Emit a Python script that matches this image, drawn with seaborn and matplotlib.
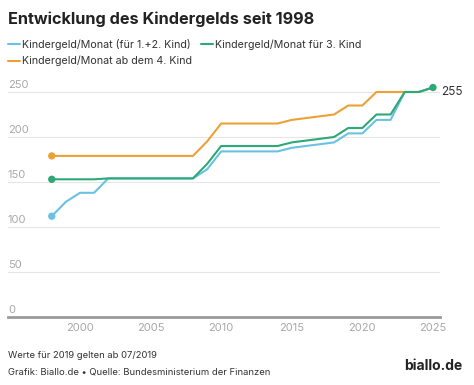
import matplotlib
matplotlib.use("Agg")
import matplotlib.pyplot as plt
import seaborn as sns
import pandas as pd
from matplotlib.lines import Line2D

years = [1998, 1999, 2000, 2001, 2002, 2003, 2004, 2005, 2006, 2007, 2008,
         2009, 2010, 2011, 2012, 2013, 2014, 2015, 2016, 2017, 2018, 2019,
         2020, 2021, 2022, 2023, 2024, 2025]
kind_1_2 = [112, 128, 138, 138, 154, 154, 154, 154, 154, 154, 154,
            164, 184, 184, 184, 184, 184, 188, 190, 192, 194, 204,
            204, 219, 219, 250, 250, 255]
kind_3 = [153, 153, 153, 153, 154, 154, 154, 154, 154, 154, 154,
          170, 190, 190, 190, 190, 190, 194, 196, 198, 200, 210,
          210, 225, 225, 250, 250, 255]
kind_4 = [179, 179, 179, 179, 179, 179, 179, 179, 179, 179, 179,
          195, 215, 215, 215, 215, 215, 219, 221, 223, 225, 235,
          235, 250, 250, 250, 250, 255]

series_names = ["Kindergeld/Monat ab dem 4. Kind",
                "Kindergeld/Monat (für 1.+2. Kind)",
                "Kindergeld/Monat für 3. Kind"]
series_values = [kind_4, kind_1_2, kind_3]
colors = ["#eba136", "#69c2e3", "#2ea877"]
y_ticks = [0, 50, 100, 150, 200, 250]
x_ticks = [2000, 2005, 2010, 2015, 2020, 2025]

df = pd.DataFrame({
    "Jahr": years * 3,
    "Wert": kind_4 + kind_1_2 + kind_3,
    "Serie": sum([[n] * len(years) for n in series_names], []),
})
palette = dict(zip(series_names, colors))

sns.set_theme(style="white")
plt.rcParams["font.family"] = ["Inter", "DejaVu Sans"]

fig = plt.figure(figsize=(4.74, 3.85), dpi=100)
W, H = 474, 385
ax_left, ax_right = 8 / W, 440 / W
ax_bottom = (H - 317) / H
ylim_top = 260
ax_top = (H - (317 - ylim_top * 0.9)) / H
ax = fig.add_axes([ax_left, ax_bottom, ax_right - ax_left, ax_top - ax_bottom])

# gridlines
for t in y_ticks[1:]:
    ax.axhline(t, color="#e6e6e6", lw=0.8, zorder=0)

sns.lineplot(data=df, x="Jahr", y="Wert", hue="Serie", palette=palette,
             hue_order=series_names, lw=1.5, legend=False, ax=ax, zorder=3)

first = df[df["Jahr"] == years[0]]
sns.scatterplot(data=first, x="Jahr", y="Wert", hue="Serie", palette=palette,
                hue_order=series_names, s=28, edgecolor="none", legend=False,
                ax=ax, zorder=4, clip_on=False)
last = df[(df["Jahr"] == years[-1]) & (df["Serie"] == series_names[2])]
sns.scatterplot(data=last, x="Jahr", y="Wert", color=colors[2], s=28,
                edgecolor="none", legend=False, ax=ax, zorder=5, clip_on=False)
ax.annotate(str(kind_3[-1]), (years[-1], kind_3[-1]), xytext=(6, -3),
            textcoords="offset points", va="center", ha="left",
            fontsize=8.5, color="#333333", annotation_clip=False)

ax.set_xlim(1994.9, 2025.5)
ax.set_ylim(0, ylim_top)
ax.set_xticks(x_ticks)
ax.set_xticklabels([str(x) for x in x_ticks], fontsize=8, color="#a8a8a8")
ax.tick_params(axis="x", length=0, pad=4)
ax.set_yticks([])
for t in y_ticks:
    ax.annotate(str(t), (0, t), xycoords=("axes fraction", "data"),
                xytext=(0, 1.5), textcoords="offset points", ha="left",
                va="bottom", fontsize=8, color="#a8a8a8")
ax.set_xlabel("")
ax.set_ylabel("")
for s in ["top", "right", "left"]:
    ax.spines[s].set_visible(False)
ax.spines["bottom"].set_color("#9a9a9a")
ax.spines["bottom"].set_linewidth(2)
ax.patch.set_alpha(0)

# title
fig.text(8 / W, 1 - 19 / H, "Entwicklung des Kindergelds seit 1998",
         fontsize=11.7, fontweight="bold", color="#222222", va="center", ha="left")

# legend (order so rows read: 1.+2., 3. / 4.)
handles = [Line2D([0], [0], color=colors[1], lw=1.5),
           Line2D([0], [0], color=colors[0], lw=1.5),
           Line2D([0], [0], color=colors[2], lw=1.5)]
labels = [series_names[1], series_names[0], series_names[2]]
fig.legend(handles, labels, loc="upper left", bbox_to_anchor=(8 / W, 1 - 39 / H),
           ncol=2, frameon=False, fontsize=7.7, handlelength=1.1,
           handletextpad=0.25, columnspacing=0.8, labelspacing=0.55,
           borderpad=0, borderaxespad=0, labelcolor="#333333")

# footer
fig.text(8 / W, 1 - 355 / H, "Werte für 2019 gelten ab 07/2019",
         fontsize=6.8, color="#333333", va="center", ha="left")
fig.text(8 / W, 1 - 372 / H, "Grafik: Biallo.de • Quelle: Bundesministerium der Finanzen",
         fontsize=6.8, color="#333333", va="center", ha="left")
fig.text(462 / W, 1 - 366 / H, "biallo.de", fontsize=10, fontweight="bold",
         color="#222222", va="center", ha="right")

fig.savefig("out.png", dpi=100, facecolor="white")
